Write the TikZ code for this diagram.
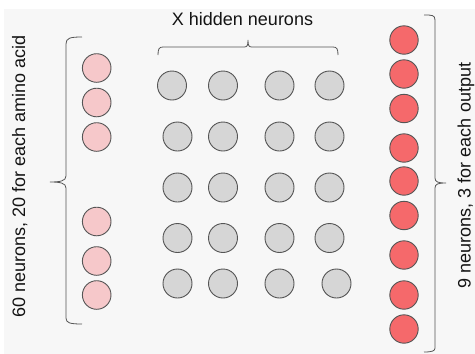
\documentclass[tikz,border=0pt]{standalone}
\usepackage{fontspec}
\setmainfont{Liberation Sans}
\definecolor{bgc}{RGB}{247,247,247}
\definecolor{pinkc}{RGB}{246,200,202}
\definecolor{grayc}{RGB}{214,214,214}
\definecolor{redc}{RGB}{245,105,107}
\definecolor{edgec}{RGB}{85,85,85}
\definecolor{txtc}{RGB}{20,20,20}
\begin{document}
\begin{tikzpicture}[x=1pt,y=-1pt,
  neuron/.style={circle,draw=edgec,line width=0.9pt,minimum size=28.6pt,inner sep=0pt},
  inneuron/.style={neuron,fill=pinkc},
  hidneuron/.style={neuron,fill=grayc,minimum size=29pt},
  outneuron/.style={neuron,fill=redc,minimum size=28.4pt},
  bracket/.style={draw=edgec,line width=0.8pt},
  lbl/.style={text=txtc,font=\fontsize{18}{20}\selectfont,inner sep=0pt}]
\useasboundingbox (0,0) rectangle (475,354);
\fill[white] (0,0) rectangle (475,354);
\fill[bgc] (4,9) rectangle (475,354);
% input neurons
\foreach \y [count=\i] in {68,102.5,137,221.5,261,295}
  \node[inneuron] (in\i) at (96.7,\y) {};
% hidden neurons
\node[hidneuron] (h11) at (172,85.5) {};
\node[hidneuron] (h12) at (223,85.5) {};
\node[hidneuron] (h13) at (279.5,85.5) {};
\node[hidneuron] (h14) at (329.5,85.5) {};
\foreach \y [count=\r from 2] in {136.5,187.5,238} {
  \node[hidneuron] (h\r1) at (177.5,\y) {};
  \node[hidneuron] (h\r2) at (223,\y) {};
  \node[hidneuron] (h\r3) at (279.5,\y) {};
  \node[hidneuron] (h\r4) at (329.5,\y) {};
}
\node[hidneuron] (h51) at (177.5,283.5) {};
\node[hidneuron] (h52) at (223,283.5) {};
\node[hidneuron] (h53) at (279.5,283.5) {};
\node[hidneuron] (h54) at (336.5,283.5) {};
% output neurons
\foreach \y [count=\i] in {40,74,108.5,148,181,215.5,255,295,329}
  \node[outneuron] (out\i) at (404,\y) {};
% labels
\node[lbl,anchor=base] (thid) at (242.5,25.5) {X hidden neurons};
\node[lbl,anchor=base,rotate=90] (tin) at (25,176.5) {60 neurons, 20 for each amino acid};
\node[lbl,anchor=base,rotate=90] (tout) at (470.5,175.5) {9 neurons, 3 for each output};
% brackets
\path[bracket] (82,37) .. controls (70,37) and (66,38) .. (66,44)
  -- (66,176) .. controls (66,181) and (60,182) .. (50,182)
  .. controls (60,182) and (66,183) .. (66,188)
  -- (66,318) .. controls (66,323) and (70,324) .. (82,324);
\path[bracket] (158,55) .. controls (158,49) and (159,47) .. (163,47)
  -- (244,47) .. controls (247,47) and (248,46) .. (248,40)
  .. controls (248,46) and (249,47) .. (252,47)
  -- (333,47) .. controls (337,47) and (338,49) .. (338,55);
\path[bracket] (424,15) .. controls (432,15) and (435,15) .. (435,20)
  -- (435,178) .. controls (435,182) and (438,183) .. (446,183)
  .. controls (438,183) and (435,184) .. (435,188)
  -- (435,348) .. controls (435,351) and (432,352) .. (424,352);
\end{tikzpicture}
\end{document}
